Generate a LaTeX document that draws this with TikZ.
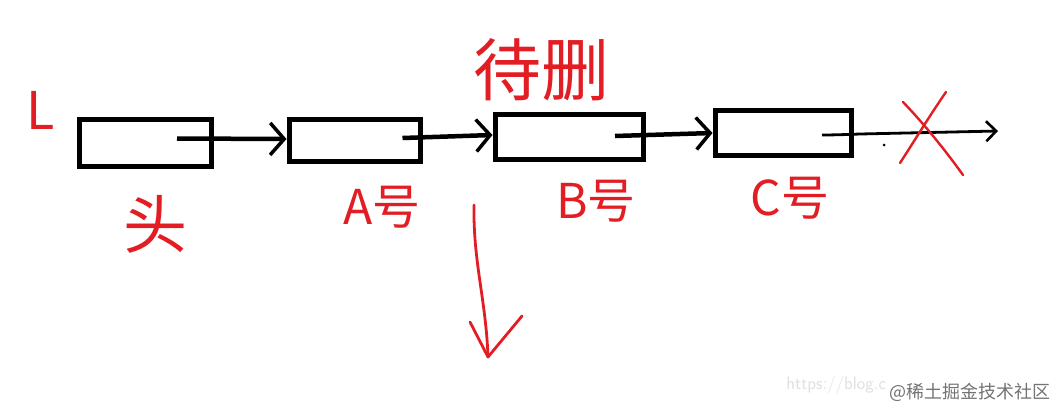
\documentclass[tikz,border=0pt]{standalone}
\usepackage{fontspec}
\newfontfamily\cjk{Noto Sans CJK SC}
\usetikzlibrary{arrows.meta}
\definecolor{pen}{RGB}{226,30,36}
\begin{document}
\begin{tikzpicture}[x=1pt,y=-1pt,
  listbox/.style={draw=black,line width=5pt,inner sep=0pt},
  link/.style={draw=black,line width=4.5pt,-{Straight Barb[length=14pt,width=32pt,line width=3.5pt]}},
  hand/.style={text=pen,inner sep=0pt},
  redline/.style={draw=pen,line width=2.4pt,line cap=round,line join=round}]
\useasboundingbox[fill=white] (0,0) rectangle (1064,418);
% boxes
\node[listbox,minimum width=132pt,minimum height=47pt] (b1) at (145,142.5) {};
\node[listbox,minimum width=131pt,minimum height=42pt] (b2) at (354.5,140) {};
\node[listbox,minimum width=148pt,minimum height=45pt] (b3) at (569,137) {};
\node[listbox,minimum width=136pt,minimum height=45pt] (b4) at (783,133) {};
% links
\draw[link] ([xshift=32pt,yshift=4pt]b1.center) -- ([yshift=1pt]b2.west);
\draw[link] ([xshift=48pt,yshift=2pt]b2.center) -- ([yshift=2pt]b3.west);
\draw[link] ([xshift=46pt,yshift=1pt]b3.center) -- ([yshift=0pt]b4.west);
% tail pointer of C
\coordinate (nil) at (998,131);
\draw[line width=2.8pt,-{Straight Barb[length=10pt,width=20pt,line width=2.6pt]}]
  ([xshift=39pt,yshift=-2pt]b4.center) .. controls (824,135) and (836,135) .. (860,134) -- (nil);
\fill (884,145) circle (1.5pt);
% labels
\node[hand,font=\cjk\fontsize{52}{52}\selectfont] (L) at (41,110) {L};
\node[hand,font=\cjk\fontsize{64}{64}\selectfont] (head) at (155,224) {头};
\node[hand,font=\cjk\fontsize{48}{48}\selectfont] (la) at (382,207) {A号};
\node[hand,font=\cjk\fontsize{48}{48}\selectfont] (lb) at (596,201) {B号};
\node[hand,font=\cjk\fontsize{48}{48}\selectfont] (lc) at (790,198) {C号};
\node[hand,font=\cjk\fontsize{68}{68}\selectfont] (del) at (541,70) {待删};
% cross over the tail pointer
\coordinate (x1) at (903,102); \coordinate (x2) at (963,175);
\coordinate (x3) at (946,92);  \coordinate (x4) at (900,163);
\draw[redline] (x1) .. controls (925,125) and (945,150) .. (x2);
\draw[redline] (x3) .. controls (930,115) and (915,140) .. (x4);
% red down arrow
\coordinate (dtop) at (474,205);
\coordinate (dtip) at (488,357);
\coordinate (dl) at (470,322);
\coordinate (dr) at (522,316);
\draw[redline,line width=2.8pt] (dtop) .. controls (473,262) and (486,300) .. (dtip);
\draw[redline,line width=2.8pt] (dl) -- (dtip) -- (dr);
% watermark
\node[text=black!55,font=\cjk\fontsize{18}{18}\selectfont,inner sep=0pt] (wm) at (970,392) {@稀土掘金技术社区};
\node[anchor=east,text=black!12,font=\sffamily\fontsize{18}{18}\selectfont,inner sep=0pt] (url) at ([xshift=-3pt,yshift=7pt]wm.west) {https://blog.c};
\end{tikzpicture}
\end{document}
